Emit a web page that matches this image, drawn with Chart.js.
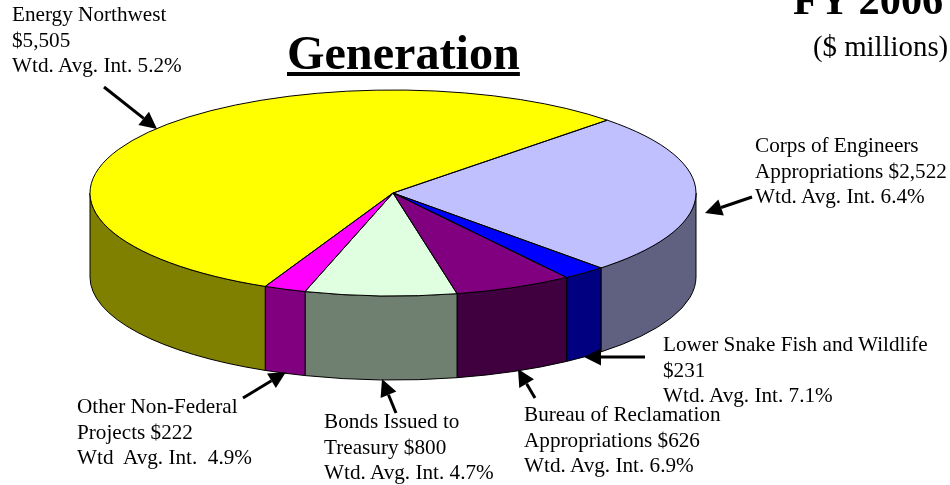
<!DOCTYPE html>
<html>
<head>
<meta charset="utf-8">
<title>Generation FY 2006</title>
<script src="https://cdn.jsdelivr.net/npm/chart.js@4"></script>
<style>
  html, body { margin: 0; padding: 0; background: #fff; overflow: hidden; }
  #wrap { position: relative; width: 950px; height: 485px; overflow: hidden; font-family: "Liberation Serif", serif; color: #000; }
  #wrap canvas { position: absolute; left: 0; top: 0; }
  .note { position: absolute; font-size: 21.2px; line-height: 25.6px; white-space: pre; }
  .title { position: absolute; white-space: pre; }
</style>
</head>
<body>
<div id="wrap"><canvas id="pie" width="950" height="485"></canvas></div>
<script>
// values in $ millions, clockwise starting from the Corps slice
const categories = ["Corps of Engineers", "Lower Snake Fish and Wildlife", "Bureau of Reclamation", "Bonds Issued to Treasury", "Other Non-Federal Projects", "Energy Northwest"];
const amounts = [2522, 231, 626, 800, 222, 5505];
const topColors = ["#c0c0ff", "#0000ff", "#800080", "#e0ffe0", "#ff00ff", "#ffff00"];
const sideColors = ["#606080", "#000080", "#400040", "#708070", "#800080", "#808000"];

// labels: [x, y, text]
const notes = [
  [12, 2, "Energy Northwest\n$5,505\nWtd. Avg. Int. 5.2%"],
  [755, 133, "Corps of Engineers\nAppropriations $2,522\nWtd. Avg. Int. 6.4%"],
  [663, 332, "Lower Snake Fish and Wildlife\n$231\nWtd. Avg. Int. 7.1%"],
  [524, 402, "Bureau of Reclamation\nAppropriations $626\nWtd. Avg. Int. 6.9%"],
  [324, 409, "Bonds Issued to\nTreasury $800\nWtd. Avg. Int. 4.7%"],
  [77, 394, "Other Non-Federal\nProjects $222\nWtd  Avg. Int.  4.9%"]
];

// leader arrows: [fromX, fromY, tipX, tipY]
const arrows = [
  [104, 87, 157, 129],
  [752, 197, 705, 213],
  [645, 357, 584, 357],
  [535, 398, 518, 369],
  [396, 413, 382, 379],
  [243, 398, 286, 372]
];

// where the flat pie gets squashed to on the page
const tilt = { cx: 393, cy: 193, rx: 303, ry: 103, depth: 84 };

const wrap = document.getElementById("wrap");
notes.forEach((n) => {
  const el = document.createElement("div");
  el.className = "note";
  el.style.left = n[0] + "px";
  el.style.top = n[1] + "px";
  el.textContent = n[2];
  wrap.appendChild(el);
});

function addTitle(text, x, y, css) {
  const el = document.createElement("div");
  el.className = "title";
  el.style.cssText = `left:${x}px;top:${y}px;${css}`;
  el.textContent = text;
  wrap.appendChild(el);
}
addTitle("Generation", 287, 25, "font-size:48.2px;font-weight:bold;text-decoration:underline;");
addTitle("FY 2006", 793, -25, "font-size:42.4px;font-weight:bold;");
addTitle("($ millions)", 813, 30, "font-size:28.8px;");

function drawArrow(ctx, a) {
  const ang = Math.atan2(a[3] - a[1], a[2] - a[0]);
  const headLen = 17, headW = 8.5;
  const bx = a[2] - headLen * Math.cos(ang), by = a[3] - headLen * Math.sin(ang);
  ctx.lineWidth = 3;
  ctx.strokeStyle = "#000";
  ctx.fillStyle = "#000";
  ctx.beginPath();
  ctx.moveTo(a[0], a[1]);
  ctx.lineTo(bx, by);
  ctx.stroke();
  ctx.beginPath();
  ctx.moveTo(a[2], a[3]);
  ctx.lineTo(bx - headW * Math.sin(ang), by + headW * Math.cos(ang));
  ctx.lineTo(bx + headW * Math.sin(ang), by - headW * Math.cos(ang));
  ctx.closePath();
  ctx.fill();
}

// draws the rim under the pie, squashes the pie itself, then outlines it
const tiltPlugin = {
  id: "tilt",
  beforeDatasetsDraw(chart) {
    const ctx = chart.ctx;
    const arcs = chart.getDatasetMeta(0).data;
    ctx.save();
    ctx.strokeStyle = "#000";
    ctx.lineWidth = 1;
    arcs.forEach((arc, i) => {
      const s = Math.max(arc.startAngle, 0);
      const e = Math.min(arc.endAngle, Math.PI);
      if (e <= s) return;
      ctx.beginPath();
      ctx.ellipse(tilt.cx, tilt.cy, tilt.rx, tilt.ry, 0, s, e);
      ctx.ellipse(tilt.cx, tilt.cy + tilt.depth, tilt.rx, tilt.ry, 0, e, s, true);
      ctx.closePath();
      ctx.fillStyle = sideColors[i];
      ctx.fill();
      ctx.stroke();
    });
    ctx.restore();

    const a = arcs[0];
    ctx.save();
    ctx.translate(tilt.cx, tilt.cy);
    ctx.scale(tilt.rx / a.outerRadius, tilt.ry / a.outerRadius);
    ctx.translate(-a.x, -a.y);
  },
  afterDatasetsDraw(chart) {
    const ctx = chart.ctx;
    ctx.restore();
    ctx.save();
    ctx.strokeStyle = "#000";
    ctx.lineWidth = 1;
    chart.getDatasetMeta(0).data.forEach((arc) => {
      ctx.beginPath();
      ctx.moveTo(tilt.cx, tilt.cy);
      ctx.ellipse(tilt.cx, tilt.cy, tilt.rx, tilt.ry, 0, arc.startAngle, arc.endAngle);
      ctx.closePath();
      ctx.stroke();
    });
    arrows.forEach((a) => drawArrow(ctx, a));
    ctx.restore();
  }
};

new Chart(document.getElementById("pie"), {
  type: "pie",
  data: {
    labels: categories,
    datasets: [{ data: amounts, backgroundColor: topColors, borderWidth: 0 }]
  },
  options: {
    responsive: false,
    animation: false,
    rotation: 45,
    radius: 200,
    plugins: { legend: { display: false }, tooltip: { enabled: false } }
  },
  plugins: [tiltPlugin]
});
</script>
</body>
</html>
